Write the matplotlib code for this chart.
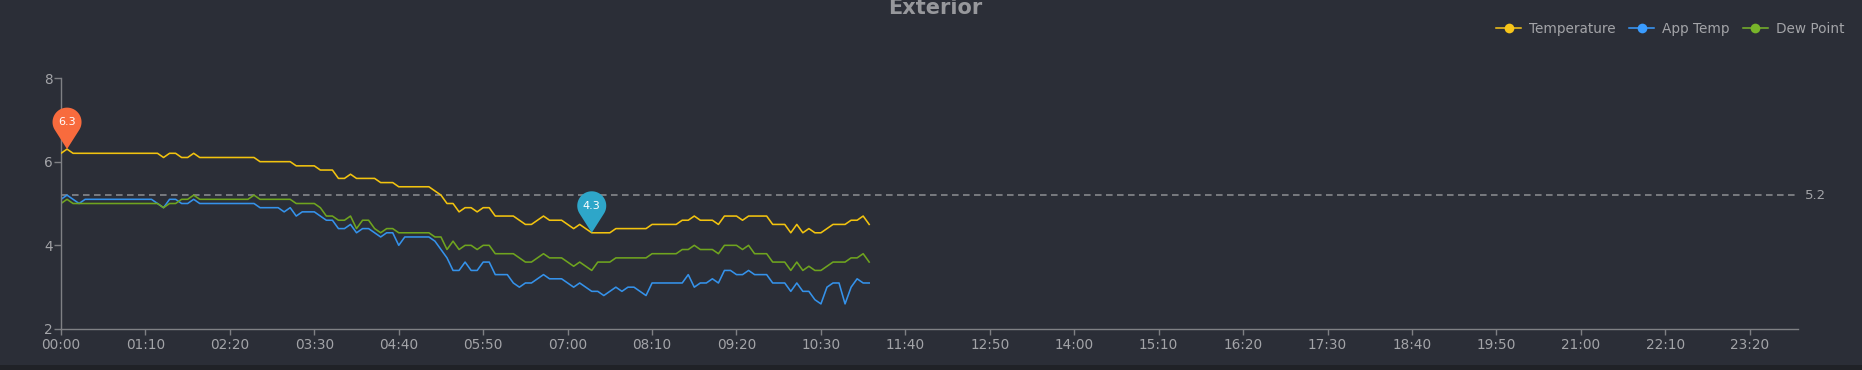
import numpy as np
import matplotlib
matplotlib.use('Agg')
import matplotlib.pyplot as plt
from matplotlib.lines import Line2D
from matplotlib.path import Path
from matplotlib.patches import PathPatch, Rectangle
import matplotlib.transforms as mtransforms

# ---------------- data ----------------
sample_interval_min = 5

temperature = [
    6.2, 6.3, 6.2, 6.2, 6.2, 6.2, 6.2, 6.2, 6.2, 6.2, 6.2, 6.2, 6.2, 6.2, 6.2, 6.2, 6.2,
    6.1, 6.2, 6.2, 6.1, 6.1, 6.2,
    6.1, 6.1, 6.1, 6.1, 6.1, 6.1, 6.1, 6.1, 6.1, 6.1,
    6.0, 6.0, 6.0, 6.0, 6.0, 6.0,
    5.9, 5.9, 5.9, 5.9,
    5.8, 5.8, 5.8,
    5.6, 5.6, 5.7,
    5.6, 5.6, 5.6, 5.6,
    5.5, 5.5, 5.5,
    5.4, 5.4, 5.4, 5.4, 5.4, 5.4,
    5.3, 5.2, 5.0, 5.0, 4.8, 4.9, 4.9, 4.8, 4.9, 4.9,
    4.7, 4.7, 4.7, 4.7,
    4.6, 4.5, 4.5, 4.6, 4.7, 4.6, 4.6, 4.6, 4.5, 4.4, 4.5, 4.4,
    4.3, 4.3, 4.3, 4.3,
    4.4, 4.4, 4.4, 4.4, 4.4, 4.4,
    4.5, 4.5, 4.5, 4.5, 4.5,
    4.6, 4.6, 4.7, 4.6, 4.6, 4.6, 4.5, 4.7, 4.7, 4.7, 4.6, 4.7, 4.7, 4.7, 4.7,
    4.5, 4.5, 4.5, 4.3, 4.5, 4.3, 4.4, 4.3, 4.3, 4.4, 4.5, 4.5, 4.5, 4.6, 4.6, 4.7, 4.5,
]

app_temp = [
    5.1, 5.2, 5.1, 5.0,
    5.1, 5.1, 5.1, 5.1, 5.1, 5.1, 5.1, 5.1, 5.1, 5.1, 5.1, 5.1,
    5.0, 4.9, 5.1, 5.1, 5.0, 5.0, 5.1,
    5.0, 5.0, 5.0, 5.0, 5.0, 5.0, 5.0, 5.0, 5.0, 5.0,
    4.9, 4.9, 4.9, 4.9,
    4.8, 4.9, 4.7,
    4.8, 4.8, 4.8,
    4.7, 4.6, 4.6, 4.4, 4.4, 4.5, 4.3, 4.4, 4.4, 4.3, 4.2, 4.3, 4.3,
    4.0,
    4.2, 4.2, 4.2, 4.2, 4.2,
    4.1, 3.9, 3.7, 3.4, 3.4, 3.6, 3.4, 3.4, 3.6, 3.6,
    3.3, 3.3, 3.3,
    3.1, 3.0, 3.1, 3.1, 3.2, 3.3,
    3.2, 3.2, 3.2,
    3.1, 3.0, 3.1, 3.0, 2.9, 2.9, 2.8, 2.9, 3.0, 2.9, 3.0, 3.0, 2.9, 2.8,
    3.1, 3.1, 3.1, 3.1, 3.1, 3.1,
    3.3, 3.0, 3.1, 3.1, 3.2, 3.1, 3.4, 3.4, 3.3, 3.3, 3.4,
    3.3, 3.3, 3.3,
    3.1, 3.1, 3.1,
    2.9, 3.1, 2.9, 2.9, 2.7, 2.6, 3.0, 3.1, 3.1, 2.6, 3.0, 3.2, 3.1, 3.1,
]

dew_point = [
    5.0, 5.1, 5.0, 5.0, 5.0, 5.0, 5.0, 5.0, 5.0, 5.0, 5.0, 5.0, 5.0, 5.0, 5.0, 5.0, 5.0,
    4.9, 5.0, 5.0, 5.1, 5.1, 5.2,
    5.1, 5.1, 5.1, 5.1, 5.1, 5.1, 5.1, 5.1, 5.1,
    5.2,
    5.1, 5.1, 5.1, 5.1, 5.1, 5.1,
    5.0, 5.0, 5.0, 5.0,
    4.9, 4.7, 4.7, 4.6, 4.6, 4.7, 4.4, 4.6, 4.6, 4.4, 4.3, 4.4, 4.4,
    4.3, 4.3, 4.3, 4.3, 4.3, 4.3,
    4.2, 4.2, 3.9, 4.1, 3.9, 4.0, 4.0, 3.9, 4.0, 4.0,
    3.8, 3.8, 3.8, 3.8,
    3.7, 3.6, 3.6, 3.7, 3.8,
    3.7, 3.7, 3.7,
    3.6, 3.5, 3.6, 3.5, 3.4,
    3.6, 3.6, 3.6,
    3.7, 3.7, 3.7, 3.7, 3.7, 3.7,
    3.8, 3.8, 3.8, 3.8, 3.8,
    3.9, 3.9, 4.0, 3.9, 3.9, 3.9, 3.8, 4.0, 4.0, 4.0, 3.9, 4.0,
    3.8, 3.8, 3.8,
    3.6, 3.6, 3.6,
    3.4, 3.6, 3.4, 3.5, 3.4, 3.4, 3.5, 3.6, 3.6, 3.6, 3.7, 3.7, 3.8, 3.6,
]

series_names = ['Temperature', 'App Temp', 'Dew Point']
x_tick_labels = ['00:00', '01:10', '02:20', '03:30', '04:40', '05:50', '07:00',
                 '08:10', '09:20', '10:30', '11:40', '12:50', '14:00', '15:10',
                 '16:20', '17:30', '18:40', '19:50', '21:00', '22:10', '23:20']
y_ticks = [2, 4, 6, 8]
reference_value = 5.2
title = 'Exterior'

# ---------------- style ----------------
BG = '#2b2e37'
YEL = '#f2c30f'
BLU = '#3592ea'
GRN = '#6fa41f'
AXC = '#7f8084'
TXT = '#a3a4a8'

W, H = 1862, 370
fig = plt.figure(figsize=(W / 100, H / 100), dpi=100, facecolor=BG)
ax = fig.add_axes([61 / W, 1 - 329 / H, (1798 - 61) / W, (329 - 78) / H])
ax.set_facecolor(BG)

minutes = np.arange(len(temperature)) * sample_interval_min
tick_minutes = np.arange(len(x_tick_labels)) * 70

ax.set_xlim(0, 1440)
ax.set_ylim(2, 8)

ax.axhline(reference_value, color='#8e8f93', lw=1.1, dashes=(4.3, 2.9), zorder=1)
ax.annotate(f'{reference_value}', xy=(1, reference_value),
            xycoords=('axes fraction', 'data'), xytext=(5, 0),
            textcoords='offset points', va='center', ha='left',
            fontsize=9.5, color=TXT)

ax.plot(minutes, temperature, color=YEL, lw=1.15, zorder=3)
ax.plot(minutes, app_temp, color=BLU, lw=1.15, zorder=2)
ax.plot(minutes, dew_point, color=GRN, lw=1.15, zorder=2)

for s in ['top', 'right']:
    ax.spines[s].set_visible(False)
for s in ['left', 'bottom']:
    ax.spines[s].set_color(AXC)
    ax.spines[s].set_linewidth(1.0)

ax.set_xticks(tick_minutes)
ax.set_xticklabels(x_tick_labels)
ax.set_yticks(y_ticks)
ax.tick_params(axis='x', colors=AXC, labelcolor=TXT, labelsize=9.8,
               length=4, width=1, pad=2.5)
ax.tick_params(axis='y', colors=AXC, labelcolor=TXT, labelsize=9.8,
               length=5, width=1, pad=1)


# ---------------- max/min pins ----------------
def draw_pin(x, y, label, color):
    r, d = 14.5, 27.0
    half = np.degrees(np.arcsin(r / d))
    a0 = -90 + (90 - half)
    a1 = 270 - (90 - half)
    ang = np.radians(np.linspace(a0, a1, 60))
    px = list(r * np.cos(ang)) + [0.0]
    py = list(d + r * np.sin(ang)) + [0.0]
    verts = np.column_stack([px, py]) / 100.0
    verts = np.vstack([verts, verts[0]])
    codes = [Path.MOVETO] + [Path.LINETO] * (len(verts) - 2) + [Path.CLOSEPOLY]
    trans = fig.dpi_scale_trans + mtransforms.ScaledTranslation(x, y, ax.transData)
    patch = PathPatch(Path(verts, codes), facecolor=color, edgecolor='none',
                      transform=trans, zorder=5, clip_on=False)
    ax.add_patch(patch)
    ax.text(0, d / 100.0, label, transform=trans, ha='center', va='center',
            fontsize=8, color='white', zorder=6, clip_on=False)


temps = np.array(temperature)
i_max = int(np.argmax(temps))
i_min = int(np.argmin(temps))
draw_pin(minutes[i_max], temps[i_max], f'{temps[i_max]:.1f}', '#f86b3d')
draw_pin(minutes[i_min], temps[i_min], f'{temps[i_min]:.1f}', '#2ea6c9')

# ---------------- legend ----------------
handles = [Line2D([], [], color=c, lw=1.1, marker='o', markersize=7,
                  markeredgewidth=0)
           for c in ['#f7c51a', '#3a9cff', '#78b52a']]
leg = fig.legend(handles, series_names, loc='center right',
                 bbox_to_anchor=(1844 / W, 1 - 29 / H),
                 bbox_transform=fig.transFigure, ncol=3, frameon=False,
                 fontsize=9.8, handlelength=1.85, handletextpad=0.55,
                 columnspacing=1.0, borderpad=0, borderaxespad=0)
for t in leg.get_texts():
    t.set_color(TXT)

# ---------------- title ----------------
fig.text(935 / W, 1 - 14.5 / H, title, ha='center', va='baseline',
         fontsize=15, fontweight='bold', color='#97989c')

# bottom dark strip
fig.add_artist(Rectangle((0, 0), 1, 5 / H, transform=fig.transFigure,
                         facecolor='#202227', edgecolor='none'))

fig.savefig('out.png', dpi=100, facecolor=BG)
